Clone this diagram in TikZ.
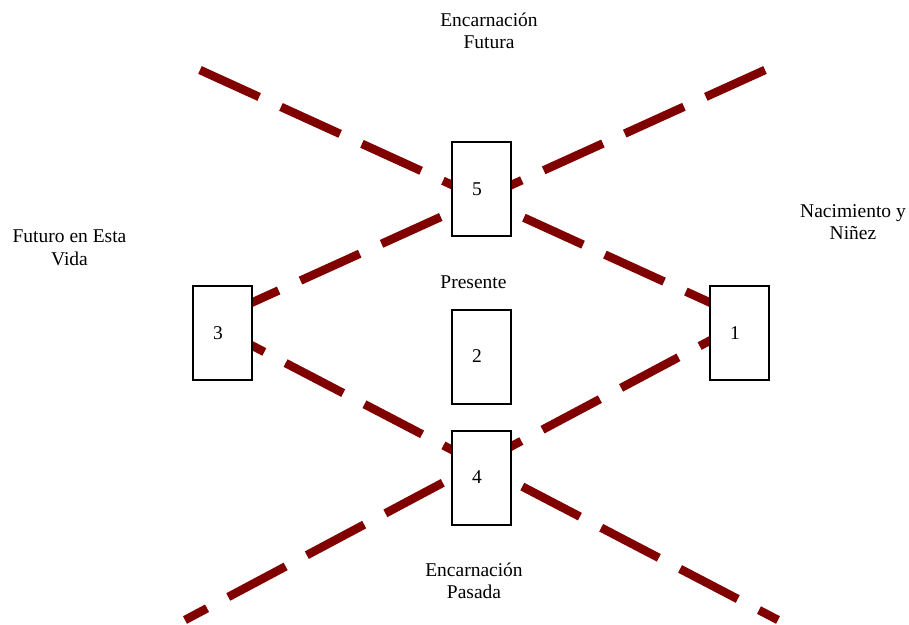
\documentclass[tikz,border=0pt]{standalone}
\usepackage{fontspec}
\setmainfont{Liberation Serif}
\usetikzlibrary{positioning,backgrounds}
\definecolor{maroonline}{RGB}{128,0,0}

\begin{document}
\begin{tikzpicture}[
    x=1pt, y=-1pt,
    every node/.style={font=\fontsize{19.5}{22.5}\selectfont},
    card/.style={draw, line width=2pt, fill=white, minimum width=59pt, minimum height=94pt, inner sep=0pt},
    num/.style={label={[xshift=-4.5pt]center:#1}},
    caption/.style={align=center, inner sep=0pt},
    ray/.style={draw=maroonline, line width=8.5pt, dash pattern=on 65pt off 24pt}
]
    \useasboundingbox (0,0) rectangle (909,624);

    % 1. Cards
    \node[card, num=5] (box5) at (481.5, 189) {};
    \node[card, num=3] (box3) at (222.5, 333) {};
    \node[card, num=1] (box1) at (739.5, 333) {};
    \node[card, num=2] (box2) at (481.5, 356.5) {};
    \node[card, num=4] (box4) at (481.5, 477.5) {};

    % 2. Captions
    \node[caption] (futura) at (489, 31) {Encarnación\\Futura};
    \node[caption] (vida) at (69.5, 248) {Futuro en Esta\\Vida};
    \node[caption] (ninez) at (853, 222) {Nacimiento y\\Niñez};
    \node[caption] (presente) at (473.5, 282) {Presente};
    \node[caption] (pasada) at (474, 581) {Encarnación\\Pasada};

    % 3. Free ends of the crossing lines
    \coordinate (ul) at (200, 70);
    \coordinate (ur) at (765, 70);
    \coordinate (ll) at (185, 620);
    \coordinate (lr) at (778, 620);

    % 4. Crossing lines, behind the cards
    \begin{scope}[on background layer]
        \draw[ray] (ul) -- ([xshift=2pt, yshift=30pt]box1.west);
        \draw[ray] (ur) -- ([xshift=-2pt, yshift=30pt]box3.east);
        \draw[ray, dash phase=50pt] ([xshift=-2pt, yshift=-12pt]box3.east) -- (lr);
        \draw[ray, dash phase=40pt] (ll) -- ([xshift=2pt, yshift=-7pt]box1.west);
    \end{scope}

\end{tikzpicture}
\end{document}
